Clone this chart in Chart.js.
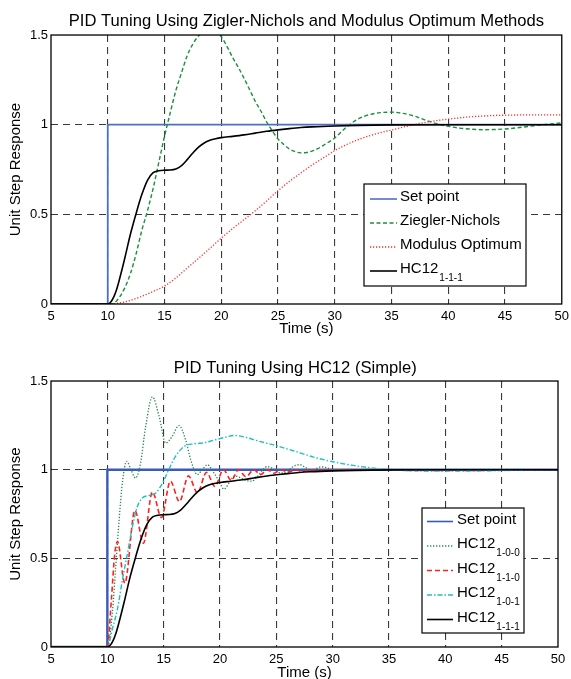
<!DOCTYPE html>
<html>
<head>
<meta charset="utf-8">
<script src="https://cdn.jsdelivr.net/npm/chart.js@4.4.0/dist/chart.umd.min.js"></script>
<style>
  html, body { margin: 0; padding: 0; background: #fff; overflow: hidden; }
  canvas { position: absolute; left: 0; }
  #topChart { top: 0; }
  #bottomChart { top: 340px; }
</style>
</head>
<body>
<canvas id="topChart" width="571" height="340"></canvas>
<canvas id="bottomChart" width="571" height="345"></canvas>
<script>
// axis ticks
const xTicks = [5, 10, 15, 20, 25, 30, 35, 40, 45, 50];
const yTicks = [0, 0.5, 1, 1.5];

// set point (step at t = 10)
const setPointT = [5, 10, 10, 50];
const setPointY = [0, 0, 1, 1];

// top chart: Ziegler-Nichols
const zieglerT = [5, 10, 10.5, 11, 11.5, 12, 12.5, 13, 13.5, 14, 14.5, 15, 15.5, 16, 16.5, 17, 17.5, 18, 18.5, 19, 19.5, 20,
  20.5, 21, 21.5, 22, 22.5, 23, 23.5, 24, 24.5, 25, 25.5, 26, 26.5, 27, 27.5, 28, 28.5, 29,
  30, 31, 32, 33, 34, 35, 36, 37, 38, 39, 40, 41, 42, 43, 44, 45, 46, 47, 48, 49, 50];
const zieglerY = [0, 0, 0.004, 0.035, 0.09, 0.17, 0.28, 0.41, 0.52, 0.645, 0.79, 0.935, 1.065, 1.19, 1.29, 1.385, 1.45, 1.495, 1.52, 1.53, 1.52, 1.49,
  1.437, 1.375, 1.32, 1.26, 1.195, 1.13, 1.075, 1.015, 0.965, 0.92, 0.89, 0.865, 0.85, 0.843, 0.845, 0.853, 0.866, 0.885,
  0.926, 0.985, 1.03, 1.055, 1.067, 1.07, 1.063, 1.048, 1.025, 1.005, 0.991, 0.981, 0.975, 0.972, 0.973, 0.976, 0.982, 0.99, 0.997, 1.004, 1.01];

// top chart: Modulus Optimum
const modulusT = [5, 10, 11, 12, 13, 14, 15, 16, 17, 18, 19, 20, 21, 22, 23, 24, 25, 26, 27, 28, 29,
  30, 31, 32, 33, 34, 35, 36, 37, 38, 39, 40, 41, 42, 43, 44, 45, 46, 47, 48, 49, 50];
const modulusY = [0, 0, 0.005, 0.02, 0.043, 0.07, 0.1, 0.145, 0.2, 0.255, 0.31, 0.367, 0.42, 0.47, 0.52, 0.575, 0.632, 0.683, 0.73, 0.775, 0.815,
  0.855, 0.888, 0.915, 0.937, 0.955, 0.97, 0.986, 1.0, 1.013, 1.023, 1.031, 1.038, 1.044, 1.048, 1.051, 1.053, 1.054, 1.055, 1.055, 1.055, 1.055];

// HC12 1-1-1 (same curve in both charts)
const hc111T = [5, 10, 10.25, 10.5, 10.75, 11, 11.5, 12, 12.5, 13, 13.5, 14, 14.5, 15, 15.5, 16, 16.5, 17, 17.5, 18, 18.5, 19, 19.5, 20,
  21, 22, 23, 24, 25, 26, 27, 28, 30, 32, 35, 40, 45, 50];
const hc111Y = [0, 0, 0.01, 0.035, 0.075, 0.13, 0.255, 0.39, 0.505, 0.61, 0.69, 0.732, 0.743, 0.746, 0.747, 0.753, 0.772, 0.805, 0.842, 0.875, 0.898, 0.913, 0.922, 0.928,
  0.935, 0.943, 0.953, 0.963, 0.971, 0.978, 0.984, 0.988, 0.993, 0.996, 0.999, 1.0, 1.0, 1.0];

// bottom chart: HC12 1-0-0
const hc100T = [5, 10, 10.45, 10.75, 11.05, 11.35, 11.72, 12.1, 12.5, 12.95, 13.4, 14.0, 14.6, 15.18, 15.75, 16.36, 16.95, 17.4, 17.99, 18.43,
  18.88, 19.47, 20.0, 20.35, 20.85, 21.3, 21.8, 22.3, 22.8, 23.3, 23.8, 24.2, 24.7, 25.2, 25.6, 26.1, 26.7, 27.1, 27.6, 28.1,
  28.5, 29.0, 29.5, 30, 31, 32, 33, 35, 40, 45, 50];
const hc100Y = [0, 0, 0.196, 0.458, 0.72, 0.935, 1.047, 1.0, 0.953, 1.037, 1.243, 1.411, 1.3, 1.15, 1.187, 1.249, 1.168, 1.056, 0.972, 1.0,
  1.028, 0.981, 0.925, 0.89, 0.93, 0.965, 0.955, 0.94, 0.935, 0.96, 1.0, 1.018, 1.005, 0.985, 0.982, 1.0, 1.024, 1.028, 1.012, 0.994,
  1.005, 1.016, 1.01, 1.0, 1.0, 0.998, 1.001, 1.0, 1.0, 1.0, 1.0];

// bottom chart: HC12 1-1-0
const hc110T = [5, 10, 10.35, 10.65, 10.9, 11.55, 12.45, 13.2, 14.0, 14.8, 15.6, 16.4, 17.2, 18.0, 18.8, 19.55, 20.3, 21.0, 21.65, 22.3,
  23.0, 23.6, 24.2, 24.8, 25.4, 26.0, 26.7, 27.3, 28.0, 28.6, 29.3, 30, 32, 35, 40, 45, 50];
const hc110Y = [0, 0, 0.26, 0.52, 0.595, 0.36, 0.77, 0.585, 0.875, 0.73, 0.935, 0.82, 0.965, 0.87, 0.985, 0.905, 1.0, 0.94, 1.0, 0.96,
  1.0, 0.972, 1.0, 0.98, 1.0, 0.986, 1.0, 0.99, 1.0, 0.994, 1.0, 0.997, 0.998, 0.997, 0.995, 0.997, 1.0];

// bottom chart: HC12 1-0-1
const hc101T = [5, 10, 10.45, 10.9, 11.35, 11.8, 12.2, 12.65, 13.1, 13.7, 14.3, 14.9, 15.45, 16.05, 16.8, 17.7, 18.6, 19.5, 20.3, 21.3,
  22.1, 23.5, 25, 26.5, 28.3, 30, 31.8, 33.6, 35, 37, 40, 43, 46, 50];
const hc101Y = [0, 0, 0.103, 0.215, 0.383, 0.533, 0.67, 0.79, 0.84, 0.855, 0.868, 0.925, 1.0, 1.075, 1.13, 1.146, 1.152, 1.167, 1.18, 1.193,
  1.185, 1.16, 1.135, 1.107, 1.071, 1.045, 1.024, 1.009, 1.0, 0.994, 0.992, 0.993, 0.996, 1.0];

const FONT = '"Liberation Sans", Arial, sans-serif';

function toPoints(t, y) {
  return t.map((x, i) => ({ x: x, y: y[i] }));
}

function series(label, sub, t, y, color, dash, width, smooth) {
  return {
    label: label,
    sub: sub,
    data: toPoints(t, y),
    borderColor: color,
    borderDash: dash,
    borderWidth: width,
    pointRadius: 0,
    fill: false,
    tension: 0,
    cubicInterpolationMode: smooth ? 'monotone' : 'default'
  };
}

// draws the MATLAB style axes box
const axesBox = {
  id: 'axesBox',
  afterDatasetsDraw(chart) {
    const a = chart.chartArea;
    const ctx = chart.ctx;
    ctx.save();
    ctx.setLineDash([]);
    ctx.strokeStyle = '#000';
    ctx.lineWidth = 1.3;
    ctx.strokeRect(a.left, a.top, a.right - a.left, a.bottom - a.top);
    ctx.restore();
  }
};

// boxed legend with subscripts
const boxLegend = {
  id: 'boxLegend',
  afterDraw(chart, args, o) {
    const ctx = chart.ctx;
    ctx.save();
    ctx.fillStyle = '#fff';
    ctx.fillRect(o.left, o.top, o.width, o.height);
    ctx.setLineDash([]);
    ctx.strokeStyle = '#000';
    ctx.lineWidth = 1.2;
    ctx.strokeRect(o.left, o.top, o.width, o.height);
    chart.data.datasets.forEach((ds, i) => {
      const y = o.firstRow + i * o.rowGap;
      ctx.strokeStyle = ds.borderColor;
      ctx.lineWidth = Math.min(ds.borderWidth, 1.6);
      ctx.setLineDash(ds.borderDash || []);
      ctx.beginPath();
      ctx.moveTo(o.lineStart, y);
      ctx.lineTo(o.lineEnd, y);
      ctx.stroke();
      ctx.setLineDash([]);
      ctx.fillStyle = '#000';
      ctx.textBaseline = 'middle';
      ctx.textAlign = 'left';
      ctx.font = '15px ' + FONT;
      ctx.fillText(ds.label, o.textStart, y - 2);
      if (ds.sub) {
        const w = ctx.measureText(ds.label).width;
        ctx.font = '10px ' + FONT;
        ctx.fillText(ds.sub, o.textStart + w + 1, y + 7.5);
      }
    });
    ctx.restore();
  }
};

function edgeGrid(min, max) {
  return (c) => (c.tick && (c.tick.value === min || c.tick.value === max)) ? 'rgba(0,0,0,0)' : '#3a3a3a';
}

function makeChart(id, title, datasets, geo) {
  return new Chart(document.getElementById(id), {
    type: 'line',
    data: { datasets: datasets },
    plugins: [axesBox, boxLegend],
    options: {
      responsive: false,
      animation: false,
      events: [],
      layout: { padding: { left: 0, right: geo.padRight, top: 0, bottom: geo.padBottom } },
      plugins: {
        legend: { display: false },
        tooltip: { enabled: false },
        title: {
          display: true,
          fullSize: false,
          text: title,
          color: '#000',
          font: { family: FONT, size: 16.6, weight: 'normal' },
          padding: { top: geo.titleTop, bottom: geo.titleBottom }
        },
        boxLegend: geo.legend
      },
      scales: {
        x: {
          type: 'linear',
          min: 5,
          max: 50,
          afterBuildTicks: (s) => { s.ticks = xTicks.map(v => ({ value: v })); },
          afterFit: (s) => { s.height = geo.xHeight; },
          grid: { color: edgeGrid(5, 50), lineWidth: 1.1, drawTicks: true, tickLength: 3, tickColor: 'rgba(0,0,0,0)', borderDash: [7, 5] },
          border: { display: false, dash: [7, 5] },
          ticks: { color: '#000', padding: 2, maxRotation: 0, font: { family: FONT, size: 13 } },
          title: { display: true, text: 'Time (s)', color: '#000', padding: { top: 0, bottom: 0 }, font: { family: FONT, size: 15 } }
        },
        y: {
          min: 0,
          max: 1.5,
          afterBuildTicks: (s) => { s.ticks = yTicks.map(v => ({ value: v })); },
          afterFit: (s) => { s.width = 51; },
          grid: { color: edgeGrid(0, 1.5), lineWidth: 1.1, drawTicks: false, borderDash: [7, 5] },
          border: { display: false, dash: [7, 5] },
          ticks: { color: '#000', padding: 3, font: { family: FONT, size: 13 }, callback: (v) => String(v) },
          title: { display: true, text: 'Unit Step Response', color: '#000', padding: { top: 7, bottom: 0 }, font: { family: FONT, size: 15 } }
        }
      }
    }
  });
}

function ordered(list) {
  list.forEach((d, i) => { d.order = list.length - i; });
  return list;
}

makeChart('topChart', 'PID Tuning Using Zigler-Nichols and Modulus Optimum Methods', ordered([
  series('Set point', '', setPointT, setPointY, '#4f6fc6', [], 1.8, false),
  series('Ziegler-Nichols', '', zieglerT, zieglerY, '#1b8f3a', [4, 2.5], 1.4, true),
  series('Modulus Optimum', '', modulusT, modulusY, '#ff2a2a', [1.2, 1.8], 1.3, true),
  series('HC12', '1-1-1', hc111T, hc111Y, '#000000', [], 1.6, true)
]), {
  padRight: 9, padBottom: 2, xHeight: 34, titleTop: 11.5, titleBottom: 3.6,
  legend: { left: 364, top: 184, width: 162, height: 102, firstRow: 199, rowGap: 24, lineStart: 370, lineEnd: 397, textStart: 400 }
});

makeChart('bottomChart', 'PID Tuning Using HC12 (Simple)    ', ordered([
  series('Set point', '', setPointT, setPointY, '#3a5bb8', [], 2.4, false),
  series('HC12', '1-0-0', hc100T, hc100Y, '#2a8a4a', [1.3, 1.7], 1.3, true),
  series('HC12', '1-1-0', hc110T, hc110Y, '#ff2020', [5, 3], 1.6, true),
  series('HC12', '1-0-1', hc101T, hc101Y, '#22c0c0', [5, 2, 1.5, 2], 1.4, true),
  series('HC12', '1-1-1', hc111T, hc111Y, '#000000', [], 1.6, true)
]), {
  padRight: 13, padBottom: 3, xHeight: 35, titleTop: 18.8, titleBottom: 2.3,
  legend: { left: 422, top: 168, width: 102, height: 125, firstRow: 181.5, rowGap: 24.5, lineStart: 427, lineEnd: 453, textStart: 457 }
});
</script>
</body>
</html>
